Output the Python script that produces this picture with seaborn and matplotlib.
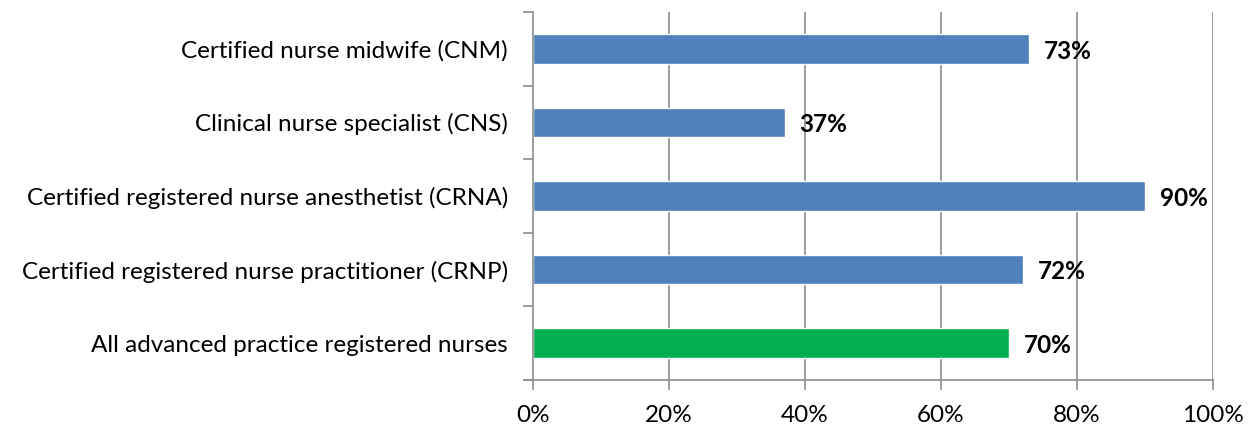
import matplotlib
matplotlib.use("Agg")
import matplotlib.pyplot as plt
import seaborn as sns
from matplotlib.ticker import FixedLocator, PercentFormatter

categories = [
    "Certified nurse midwife (CNM)",
    "Clinical nurse specialist (CNS)",
    "Certified registered nurse anesthetist (CRNA)",
    "Certified registered nurse practitioner (CRNP)",
    "All advanced practice registered nurses",
]
values = [73, 37, 90, 72, 70]
bar_colors = ["#4F81BD", "#4F81BD", "#4F81BD", "#4F81BD", "#00B050"]
x_ticks = [0, 20, 40, 60, 80, 100]

sns.set_theme(style="white")
plt.rcParams["font.family"] = ["Lato", "DejaVu Sans"]

fig = plt.figure(figsize=(12.52, 4.25), dpi=100)
ax = fig.add_axes([533 / 1252, 1 - 380 / 425, 680 / 1252, 368 / 425])

sns.barplot(
    x=values,
    y=categories,
    hue=categories,
    palette=dict(zip(categories, bar_colors)),
    legend=False,
    width=0.4,
    saturation=1,
    ax=ax,
)

grid_color = "#8c8c8c"
ax.set_xlim(0, 100)
ax.set_ylim(len(categories) - 0.5, -0.5)
ax.set_xticks(x_ticks)
ax.xaxis.set_major_formatter(PercentFormatter(decimals=0))
for x in x_ticks[1:]:
    ax.axvline(x, color=grid_color, linewidth=1.2, zorder=0)

# category labels on minor ticks, boundary ticks on major
ax.yaxis.set_major_locator(FixedLocator([i - 0.5 for i in range(len(categories) + 1)]))
ax.yaxis.set_minor_locator(FixedLocator(list(range(len(categories)))))
ax.set_yticklabels([], minor=False)
ax.set_yticklabels(categories, minor=True)
ax.tick_params(axis="y", which="major", length=7, width=1.2, color=grid_color, left=True)
ax.tick_params(axis="y", which="minor", length=0, pad=18, labelsize=17.5, labelcolor="black")
ax.tick_params(axis="x", length=7, width=1.2, color=grid_color, bottom=True, pad=11,
               labelsize=17.5, labelcolor="black")

for side in ["top", "right"]:
    ax.spines[side].set_visible(False)
for side in ["left", "bottom"]:
    ax.spines[side].set_color(grid_color)
    ax.spines[side].set_linewidth(1.2)
# bottom axis line runs a little past the 0% tick
ax.plot([-0.012, 0], [0, 0], transform=ax.transAxes, color=grid_color,
        linewidth=1.2, clip_on=False)
ax.set_xlabel("")
ax.set_ylabel("")

for i, v in enumerate(values):
    ax.text(v + 2.2, i + 0.03, f"{v}%", va="center", ha="left",
            fontsize=17.5, fontweight="bold", color="black")

fig.savefig("out.png", dpi=100)
